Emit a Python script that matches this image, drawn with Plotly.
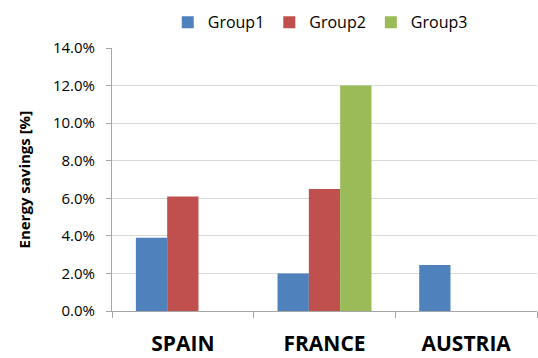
import plotly.graph_objects as go

categories = ["SPAIN", "FRANCE", "AUSTRIA"]
group1 = [0.039, 0.020, 0.0245]
group2 = [0.061, 0.065, None]
group3 = [None, 0.120, None]
series_names = ["Group1", "Group2", "Group3"]
colors = ["#4F81BD", "#C0504D", "#9BBB59"]
y_ticks = [0.0, 0.02, 0.04, 0.06, 0.08, 0.10, 0.12, 0.14]

fig = go.Figure()
for name, vals, col in zip(series_names, [group1, group2, group3], colors):
    fig.add_trace(go.Bar(x=categories, y=vals, name=name, marker_color=col,
                         marker_line_width=0))

fig.update_layout(
    width=538, height=358,
    margin=dict(l=112, r=1, t=48, b=45),
    paper_bgcolor="white", plot_bgcolor="white",
    barmode="group", bargap=0.337, bargroupgap=0,
    font=dict(family="Open Sans", color="#000000"),
    legend=dict(orientation="h", x=0.49, xanchor="center", y=1.098, yanchor="middle",
                font=dict(size=16), itemwidth=30, bgcolor="rgba(0,0,0,0)"),
    showlegend=True,
)
fig.update_xaxes(
    showline=True, linecolor="#A6A6A6", linewidth=1,
    ticks="outside", tickson="boundaries", ticklen=6, tickcolor="#A6A6A6",
    tickfont=dict(size=21, family="Open Sans", weight="bold"),
    ticklabelstandoff=14,
    showgrid=False,
)
fig.update_yaxes(
    range=[0, 0.14], tickvals=y_ticks, tickformat=".1%",
    showline=True, linecolor="#A6A6A6", linewidth=1,
    ticks="outside", ticklen=5, tickcolor="#A6A6A6",
    tickfont=dict(size=15),
    ticklabelstandoff=8,
    showgrid=True, gridcolor="#D9D9D9", gridwidth=1,
    zeroline=False,
)
fig.add_annotation(
    text="<b>Energy savings [%]</b>", xref="paper", yref="paper",
    x=0, y=0.5, xanchor="center", yanchor="middle", xshift=-89,
    textangle=-90, showarrow=False, font=dict(size=15, family="Open Sans"),
)
fig.write_html("out.html")
